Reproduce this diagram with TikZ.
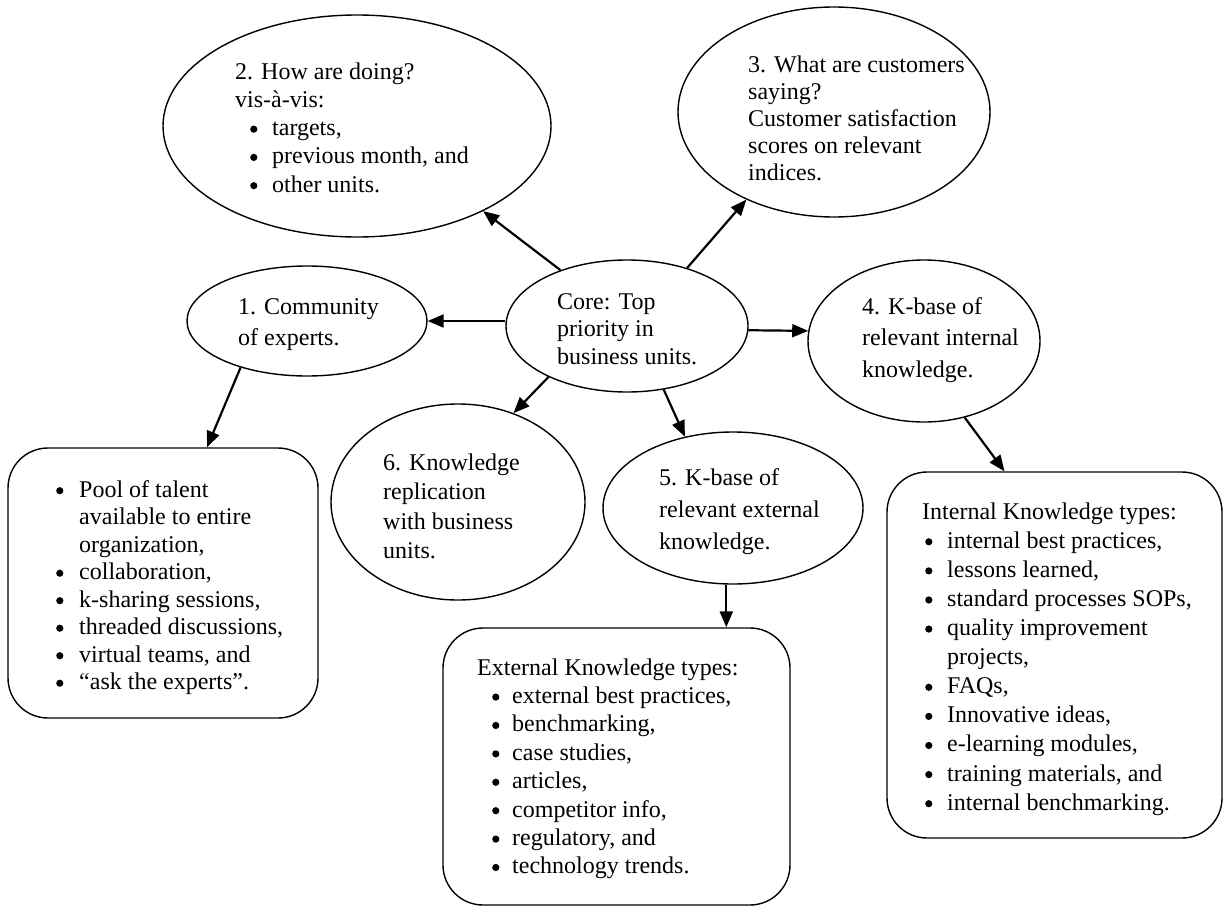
\documentclass[tikz,border=0pt]{standalone}
\usepackage{fontspec}
\setmainfont{Liberation Serif}
\usetikzlibrary{shapes.geometric,arrows.meta}
\newcommand\bul[1]{\makebox[#1][l]{\tikz[baseline=-6.5pt]\fill (3.6pt,0pt) circle (3.6pt);}}
\begin{document}
\begin{tikzpicture}[x=1pt,y=-1pt,
  shp/.style={draw,line width=1.4pt},
  ell/.style={shp,ellipse,inner sep=0pt},
  bx/.style={shp,rectangle,rounded corners=40pt,inner sep=0pt},
  txt/.style={anchor=north west,inner sep=0pt,align=left},
  arr/.style={line width=2.2pt,-{Triangle[length=16pt,width=13pt]}}]
\useasboundingbox (0,0) rectangle (1225,907);

% shapes
\node[ell,minimum width=388pt,minimum height=222pt] (e2) at (357,126) {};
\node[ell,minimum width=312pt,minimum height=210pt] (e3) at (834,112) {};
\node[ell,minimum width=240pt,minimum height=110pt] (e1) at (307,321) {};
\node[ell,minimum width=242pt,minimum height=132pt] (core) at (627,326) {};
\node[ell,minimum width=232pt,minimum height=162pt] (e4) at (924,341) {};
\node[ell,minimum width=254pt,minimum height=196pt] (e6) at (458,502) {};
\node[ell,minimum width=260pt,minimum height=152pt] (e5) at (733,508) {};
\node[bx,minimum width=310pt,minimum height=270pt] (b1) at (163,583) {};
\node[bx,minimum width=347pt,minimum height=277pt] (eb) at (616.5,766.5) {};
\node[bx,minimum width=335pt,minimum height=366pt] (ib) at (1054.5,655) {};

% texts
\node[txt,font=\fontsize{24}{28.25}\selectfont] (t2) at (235,59.2) {\strut 2. How are doing?\\vis-à-vis:\\
\hspace*{15pt}\bul{22pt}targets,\\
\hspace*{15pt}\bul{22pt}previous month, and\\
\hspace*{15pt}\bul{22pt}other units.};
\node[txt,font=\fontsize{24}{27}\selectfont] (t3) at (748,53) {\strut 3. What are customers\\saying?\\Customer satisfaction\\scores on relevant\\indices.};
\node[txt,font=\fontsize{24}{31}\selectfont] (t1) at (238,292.3) {\strut 1. Community\\of experts.};
\node[txt,font=\fontsize{24}{27.5}\selectfont] (tc) at (557,289.75) {\strut Core: Top\\priority in\\business units.};
\node[txt,font=\fontsize{24}{31.5}\selectfont] (t4) at (862,292) {\strut 4. K-base of\\relevant internal\\knowledge.};
\node[txt,font=\fontsize{24}{29.5}\selectfont] (t6) at (383,449.4) {\strut 6. Knowledge\\replication\\with business\\units.};
\node[txt,font=\fontsize{24}{32}\selectfont] (t5) at (659,462.6) {\strut 5. K-base of\\relevant external\\knowledge.};
\node[txt,font=\fontsize{24}{27.5}\selectfont] (tb1) at (56,477.75) {\strut\bul{23pt}Pool of talent\\
\hspace*{23pt}available to entire\\
\hspace*{23pt}organization,\\
\bul{23pt}collaboration,\\
\bul{23pt}k-sharing sessions,\\
\bul{23pt}threaded discussions,\\
\bul{23pt}virtual teams, and\\
\bul{23pt}“ask the experts”.};
\node[txt,font=\fontsize{24}{28.4}\selectfont] (teb) at (477,655.1) {\strut External Knowledge types:\\
\hspace*{15pt}\bul{20pt}external best practices,\\
\hspace*{15pt}\bul{20pt}benchmarking,\\
\hspace*{15pt}\bul{20pt}case studies,\\
\hspace*{15pt}\bul{20pt}articles,\\
\hspace*{15pt}\bul{20pt}competitor info,\\
\hspace*{15pt}\bul{20pt}regulatory, and\\
\hspace*{15pt}\bul{20pt}technology trends.};
\node[txt,font=\fontsize{24}{29.1}\selectfont] (tib) at (922,498.6) {\strut Internal Knowledge types:\\
\hspace*{3pt}\bul{22pt}internal best practices,\\
\hspace*{3pt}\bul{22pt}lessons learned,\\
\hspace*{3pt}\bul{22pt}standard processes SOPs,\\
\hspace*{3pt}\bul{22pt}quality improvement\\
\hspace*{25pt}projects,\\
\hspace*{3pt}\bul{22pt}FAQs,\\
\hspace*{3pt}\bul{22pt}Innovative ideas,\\
\hspace*{3pt}\bul{22pt}e-learning modules,\\
\hspace*{3pt}\bul{22pt}training materials, and\\
\hspace*{3pt}\bul{22pt}internal benchmarking.};

% connectors
\draw[arr] (core.140) -- (e2.326);
\draw[arr] (core.44.5) -- (e3.225.7);
\draw[arr] (core.west |- e1.east) -- (e1.east);
\draw[arr] (core.358) -- (e4.175.6);
\draw[arr] (core.213) -- (e6.58);
\draw[arr] (core.300) -- (e5.124.4);
\draw[arr] (e1.215) -- ([xshift=44pt]b1.north);
\draw[arr] (e4.298.5) -- ([xshift=-50pt]ib.north);
\draw[arr] (e5.265) -- (e5.265 |- eb.north);
\end{tikzpicture}
\end{document}
